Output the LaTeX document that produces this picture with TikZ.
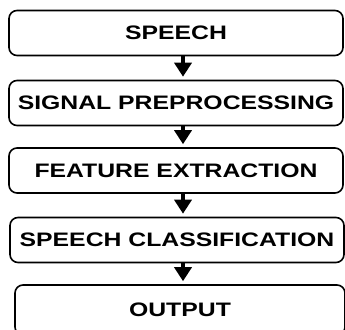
\documentclass[tikz,border=0pt]{standalone}
\usepackage{fontspec}
\setmainfont{Liberation Sans}[FakeStretch=1.27]
\usetikzlibrary{arrows.meta}
\tikzset{
  stagebox/.style={draw, line width=1.6pt, rounded corners=8pt,
    minimum width=334pt, minimum height=45pt, inner sep=2pt,
    font=\fontsize{19.5}{22}\selectfont\bfseries},
  flowarrow/.style={line width=3.5pt,
    -{Triangle[width=17pt,length=14pt]}, shorten >=3pt}
}

\begin{document}
\begin{tikzpicture}[x=1pt,y=-1pt]
  \useasboundingbox (0,0) rectangle (345,329);
  \clip (0,0) rectangle (345,329);
  \node[stagebox] (speech)     at (176,33)    {SPEECH};
  \node[stagebox] (preprocess) at (176,103)   {SIGNAL PREPROCESSING};
  \node[stagebox] (features)   at (176,170.5) {FEATURE EXTRACTION};
  \node[stagebox] (classify)   at (177,240)   {SPEECH CLASSIFICATION};
  \node[stagebox, minimum width=330pt, minimum height=50pt] (output) at (180,310) {OUTPUT};
  % connectors
  \draw[flowarrow] (speech.south -| 183,0) -- (preprocess.north -| 183,0);
  \draw[flowarrow] (preprocess.south -| 183,0) -- (features.north -| 183,0);
  \draw[flowarrow] (features.south -| 183,0) -- (classify.north -| 183,0);
  \draw[flowarrow] (classify.south -| 183,0) -- (output.north -| 183,0);
\end{tikzpicture}
\end{document}
